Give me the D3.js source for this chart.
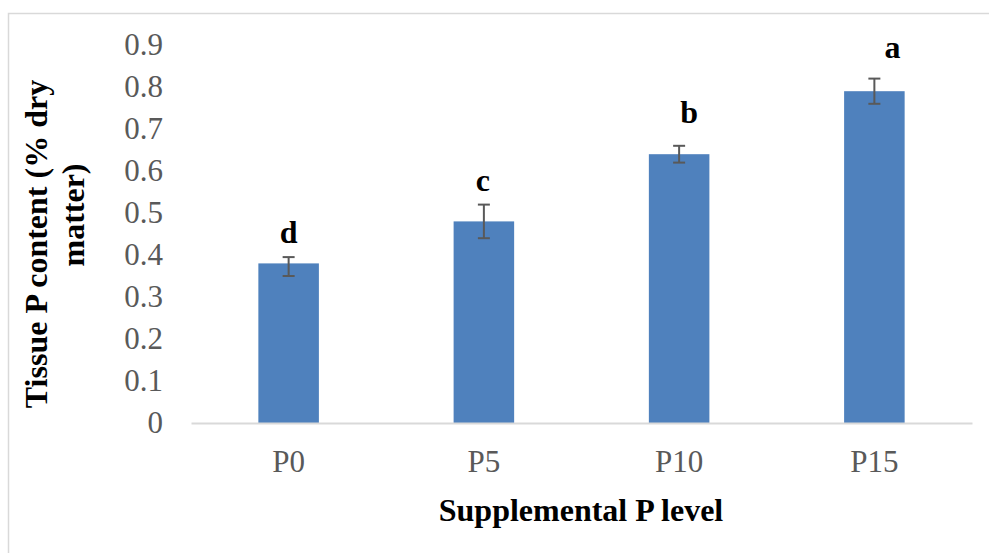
<!DOCTYPE html>
<html>
<head>
<meta charset="utf-8">
<script src="https://cdn.jsdelivr.net/npm/d3@7"></script>
<style>
  body { margin: 0; background: #fff; }
  svg { display: block; }
</style>
</head>
<body>
<svg id="chart" width="989" height="553"></svg>
<script>
// chart values
const levels = ["P0", "P5", "P10", "P15"];
const tissueP = [0.38, 0.48, 0.64, 0.79];
const errPlus = [0.015, 0.04, 0.02, 0.03];
const errMinus = [0.03, 0.04, 0.02, 0.03];
const letters = ["d", "c", "b", "a"];
const yTicks = [0, 0.1, 0.2, 0.3, 0.4, 0.5, 0.6, 0.7, 0.8, 0.9];

// letter placement tweaks (px), the letters sit as free text boxes
const letterDx = [0, -1, 10, 18];
const letterDy = [-14, -14, -23, -21];

const svg = d3.select("#chart");
const font = "'Liberation Serif', 'Times New Roman', serif";

// outer frame
svg.append("rect")
  .attr("x", 8.5)
  .attr("y", 13.5)
  .attr("width", 1100)
  .attr("height", 700)
  .attr("fill", "none")
  .attr("stroke", "#d9d9d9")
  .attr("stroke-width", 1.5);

const x = d3.scaleBand()
  .domain(levels)
  .range([191, 972])
  .paddingInner(0.69)
  .paddingOuter(0.345);

const y = d3.scaleLinear()
  .domain([0, 0.9])
  .range([423, 45]);

// y tick labels
const yAxis = svg.append("g")
  .attr("transform", "translate(165,0)")
  .call(d3.axisLeft(y).tickValues(yTicks).tickSize(0).tickPadding(2).tickFormat(d => d === 0 ? "0" : d3.format(".1f")(d)));
yAxis.select(".domain").remove();
yAxis.selectAll("text")
  .attr("font-family", font)
  .attr("font-size", 31)
  .attr("fill", "#595959");

// bars
const rows = levels.map((l, i) => ({ level: l, v: tissueP[i], up: errPlus[i], dn: errMinus[i], letter: letters[i], i: i }));

svg.append("g")
  .selectAll("rect")
  .data(rows)
  .join("rect")
  .attr("x", d => x(d.level))
  .attr("y", d => y(d.v))
  .attr("width", x.bandwidth())
  .attr("height", d => y(0) - y(d.v))
  .attr("fill", "#4f81bd");

// x axis
const xAxis = svg.append("g")
  .attr("transform", `translate(0,${y(0)})`)
  .call(d3.axisBottom(x).tickSize(0).tickPadding(27));
xAxis.select(".domain")
  .attr("stroke", "#d9d9d9")
  .attr("stroke-width", 2);
xAxis.selectAll("text")
  .attr("font-family", font)
  .attr("font-size", 31)
  .attr("fill", "#595959");

// error bars
const eb = svg.append("g")
  .attr("stroke", "#595959")
  .attr("stroke-width", 2);
eb.selectAll("line.stem")
  .data(rows)
  .join("line")
  .attr("class", "stem")
  .attr("x1", d => x(d.level) + x.bandwidth() / 2)
  .attr("x2", d => x(d.level) + x.bandwidth() / 2)
  .attr("y1", d => y(d.v + d.up))
  .attr("y2", d => y(d.v - d.dn));
eb.selectAll("line.capTop")
  .data(rows)
  .join("line")
  .attr("class", "capTop")
  .attr("x1", d => x(d.level) + x.bandwidth() / 2 - 6)
  .attr("x2", d => x(d.level) + x.bandwidth() / 2 + 6)
  .attr("y1", d => y(d.v + d.up))
  .attr("y2", d => y(d.v + d.up));
eb.selectAll("line.capBot")
  .data(rows)
  .join("line")
  .attr("class", "capBot")
  .attr("x1", d => x(d.level) + x.bandwidth() / 2 - 6)
  .attr("x2", d => x(d.level) + x.bandwidth() / 2 + 6)
  .attr("y1", d => y(d.v - d.dn))
  .attr("y2", d => y(d.v - d.dn));

// significance letters
svg.append("g")
  .selectAll("text")
  .data(rows)
  .join("text")
  .attr("x", d => x(d.level) + x.bandwidth() / 2 + letterDx[d.i])
  .attr("y", d => y(d.v + d.up) + letterDy[d.i])
  .attr("text-anchor", "middle")
  .attr("font-family", font)
  .attr("font-size", 32)
  .attr("font-weight", "bold")
  .attr("fill", "#000")
  .text(d => d.letter);

// axis titles
svg.append("text")
  .attr("x", 581)
  .attr("y", 521)
  .attr("text-anchor", "middle")
  .attr("font-family", font)
  .attr("font-size", 32)
  .attr("font-weight", "bold")
  .text("Supplemental P level");

svg.append("text")
  .attr("transform", "translate(47,244) rotate(-90)")
  .attr("text-anchor", "middle")
  .attr("font-family", font)
  .attr("font-size", 32)
  .attr("font-weight", "bold")
  .text("Tissue P content (% dry");

svg.append("text")
  .attr("transform", "translate(84,215) rotate(-90)")
  .attr("text-anchor", "middle")
  .attr("font-family", font)
  .attr("font-size", 32)
  .attr("font-weight", "bold")
  .text("matter)");
</script>
</body>
</html>
